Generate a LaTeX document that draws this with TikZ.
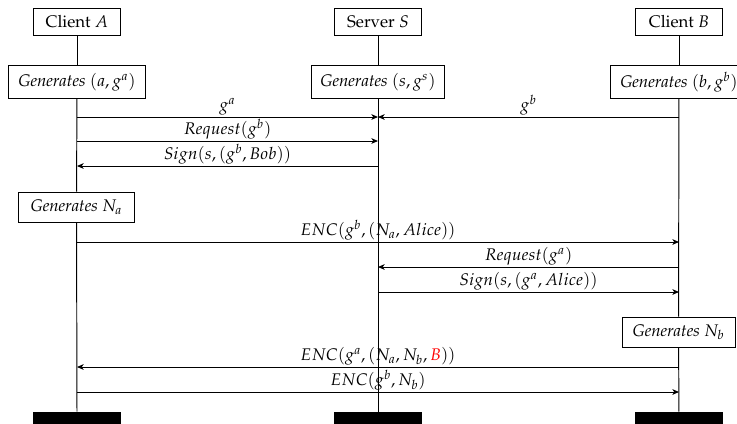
\documentclass[tikz,border=0pt]{standalone}
\usepackage[T1]{fontenc}
\usepackage{mathpazo}
\usetikzlibrary{arrows.meta}
\begin{document}
\begin{tikzpicture}[x=0.63pt,y=-0.63pt,
  font=\fontsize{10.6}{12.5}\selectfont,
  box/.style={draw, line width=0.6pt, fill=white, inner sep=0pt},
  topbox/.style={box, minimum width=55.4pt, minimum height=17.6pt},
  genbox/.style={box, minimum height=20.2pt},
  nbox/.style={box, minimum height=18.9pt},
  bar/.style={fill=black, inner sep=0pt, minimum width=56pt, minimum height=8.2pt},
  life/.style={line width=0.6pt},
  msg/.style={line width=0.6pt, -{Stealth[length=4.2pt, width=3.6pt, inset=1.2pt]}},
  lbl/.style={above, inner sep=0.8pt}]
\useasboundingbox (0,0) rectangle (737,423);
% participants
\node[topbox] (topA) at (77,22) {Client $A$};
\node[topbox] (topS) at (378,22) {Server $S$};
\node[topbox] (topB) at (679,22) {Client $B$};
% generate boxes
\node[genbox, minimum width=86.3pt] (genA) at (77,82) {\textit{Generates} $(a,g^a)$};
\node[genbox, minimum width=83.8pt] (genS) at (378,82) {\textit{Generates} $(s,g^s)$};
\node[genbox, minimum width=86.9pt] (genB) at (679,82) {\textit{Generates} $(b,g^b)$};
\node[nbox, minimum width=72.5pt] (genNa) at (76.5,207) {\textit{Generates} $N_a$};
\node[nbox, minimum width=71.2pt] (genNb) at (678.5,332) {\textit{Generates} $N_b$};
% bars
\node[bar] (barA) at (77,418.5) {};
\node[bar] (barS) at (378,418.5) {};
\node[bar] (barB) at (679,418.5) {};
% lifelines
\draw[life] (topA) -- (genA);
\draw[life] (genA) -- (genNa);
\draw[life] (genNa) -- (barA);
\draw[life] (topS) -- (genS);
\draw[life] (genS) -- (barS);
\draw[life] (topB) -- (genB);
\draw[life] (genB) -- (genNb);
\draw[life] (genNb) -- (barB);
% message endpoints
\coordinate (a1) at (77,117);  \coordinate (s1) at (378,117); \coordinate (b1) at (679,117);
\coordinate (a2) at (77,141);  \coordinate (s2) at (378,141);
\coordinate (a3) at (77,166);  \coordinate (s3) at (378,166);
\coordinate (a4) at (77,242);  \coordinate (b4) at (679,242);
\coordinate (s5) at (378,267); \coordinate (b5) at (679,267);
\coordinate (s6) at (378,292); \coordinate (b6) at (679,292);
\coordinate (a7) at (77,367);  \coordinate (b7) at (679,367);
\coordinate (a8) at (77,392);  \coordinate (b8) at (679,392);
% messages
\draw[msg] (a1) -- node[lbl] {$g^a$} (s1);
\draw[msg] (b1) -- node[lbl] {$g^b$} (s1);
\draw[msg] (a2) -- node[lbl] {$Request(g^b)$} (s2);
\draw[msg] (s3) -- node[lbl] {$Sign(s,(g^b,Bob))$} (a3);
\draw[msg] (a4) -- node[lbl] {$ENC(g^b,(N_a,Alice))$} (b4);
\draw[msg] (b5) -- node[lbl] {$Request(g^a)$} (s5);
\draw[msg] (s6) -- node[lbl] {$Sign(s,(g^a,Alice))$} (b6);
\draw[msg] (b7) -- node[lbl] {$ENC(g^a,(N_a,N_b,\textcolor{red}{B}))$} (a7);
\draw[msg] (a8) -- node[lbl] {$ENC(g^b,N_b)$} (b8);
\end{tikzpicture}
\end{document}
